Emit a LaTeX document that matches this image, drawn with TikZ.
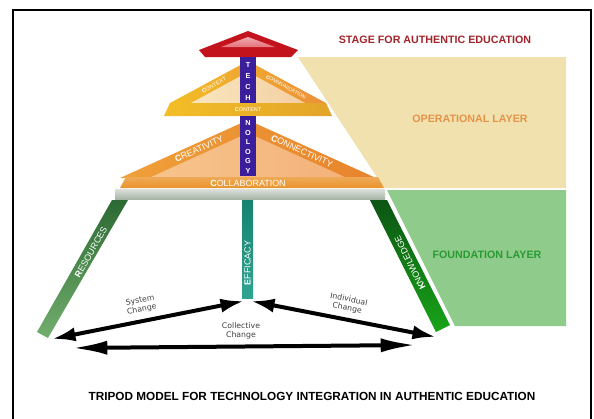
\documentclass[tikz,border=0pt]{standalone}
\usepackage{fontspec}
\setmainfont{Liberation Sans}
\newfontfamily\labelfont{DejaVu Sans}
\usetikzlibrary{arrows.meta}

\definecolor{stagered}{HTML}{C3141E}
\definecolor{stagepink}{HTML}{E5727A}
\definecolor{stagetext}{HTML}{A3232A}
\definecolor{techblue}{HTML}{3B1E9C}
\definecolor{opbeige}{HTML}{F0E1AF}
\definecolor{optext}{HTML}{E39448}
\definecolor{fdgreen}{HTML}{8FCB8A}
\definecolor{fdtext}{HTML}{2A9A35}
\definecolor{ctxyellow}{HTML}{F2BE26}
\definecolor{comorange}{HTML}{EC8F3A}
\definecolor{ctxinner}{HTML}{F8E6BE}
\definecolor{cominner}{HTML}{F4CFA2}
\definecolor{contentgold}{HTML}{E3A42A}
\definecolor{creaorange}{HTML}{EFA03A}
\definecolor{connorange}{HTML}{E7842C}
\definecolor{creainner}{HTML}{F6C48C}
\definecolor{conninner}{HTML}{F4B27A}
\definecolor{collorange}{HTML}{EA942C}
\definecolor{slabgray}{HTML}{A8B4A6}
\definecolor{resdark}{HTML}{2C6A33}
\definecolor{reslight}{HTML}{72AE6E}
\definecolor{effteal}{HTML}{1A9A84}
\definecolor{knowdark}{HTML}{0C5514}
\definecolor{knowlight}{HTML}{18A418}

\begin{document}
\begin{tikzpicture}[x=0.85pt,y=-0.85pt,>={Latex[length=20pt,width=12pt]},
  bandtext/.style={text=white,inner sep=0pt},
  techletter/.style={text=white,inner sep=0pt,font=\bfseries\fontsize{6.2}{7}\selectfont},
  layertitle/.style={inner sep=0pt,font=\bfseries\fontsize{9.1}{10}\selectfont},
  change/.style={line width=3.4pt,<->},
  changelabel/.style={align=center,inner sep=0pt,text=black!75,
    font=\labelfont\fontsize{6.6}{7.4}\selectfont}]

  \useasboundingbox (0,0) rectangle (594,418);
  \draw[line width=1.2pt] (13,430) -- (13,10) -- (591,10) -- (591,430);

  % layer panels on the right
  \fill[opbeige] (298,57) -- (566,57) -- (566,188) -- (384,188) -- cycle;
  \fill[fdgreen] (387,190) -- (566,190) -- (566,326) -- (455,326) -- cycle;
  \node[layertitle,text=stagetext] (stage) at (435,40) {STAGE FOR AUTHENTIC EDUCATION};
  \node[layertitle,text=optext] (operational) at (470,119) {OPERATIONAL LAYER};
  \node[layertitle,text=fdtext] (foundation) at (487,255) {FOUNDATION LAYER};

  % stage on top
  \fill[stagered] (248,31) -- (298,50) -- (291,57) -- (205,57) -- (199,50) -- cycle;
  \shade[top color=stagepink!60!white,bottom color=stagepink] (248,37) -- (275,47) -- (221,47) -- cycle;

  % middle triangle
  \shade[left color=ctxyellow,right color=comorange] (248,61) -- (326,103) -- (170,103) -- cycle;
  \shade[left color=ctxinner,right color=cominner] (248,72) -- (305,103) -- (191,103) -- cycle;
  \shade[left color=ctxyellow,right color=contentgold] (170,103) -- (326,103) -- (332,116) -- (164,116) -- cycle;
  \node[bandtext,rotate=28.3,font=\fontsize{4.8}{5}\selectfont] (context) at (214,85) {{\bfseries C}ONTEXT};
  \node[bandtext,rotate=-28.3,font=\fontsize{4.4}{5}\selectfont] (communication) at (286,87) {{\bfseries C}OMMUNICATION};
  \node[bandtext,font=\fontsize{4.6}{5}\selectfont] (content) at (248,110) {{\bfseries C}ONTENT};

  % lower triangle
  \shade[left color=creaorange,right color=connorange] (248,120) -- (376,178) -- (120,178) -- cycle;
  \shade[left color=creainner,right color=conninner] (248,133) -- (347,178) -- (149,178) -- cycle;
  \shade[top color=collorange!80!white,bottom color=collorange] (126,177) -- (378,177) -- (384,188) -- (120,188) -- cycle;
  \node[bandtext,rotate=24.4,font=\fontsize{7.6}{8}\selectfont] (creativity) at (199,149) {{\bfseries C}REATIVITY};
  \node[bandtext,rotate=-24.4,font=\fontsize{7.6}{8}\selectfont] (connectivity) at (302,151) {{\bfseries C}ONNECTIVITY};
  \node[bandtext,font=\fontsize{7.6}{8}\selectfont] (collaboration) at (248,183) {{\bfseries C}OLLABORATION};

  % technology pole
  \fill[techblue] (240,57) rectangle (256,103);
  \fill[techblue] (240,116) rectangle (256,176);
  \foreach \ch [count=\i] in {T,E,C,H}
    \node[techletter] (tech\i) at (248,54+\i*11) {\ch};
  \foreach \ch [count=\i] in {N,O,L,O,G,Y}
    \node[techletter] (nology\i) at (248,113.4+\i*9.6) {\ch};

  % slab and the three legs
  \shade[top color=slabgray!40!white,bottom color=slabgray] (115,189) rectangle (385,199);
  \shade[top color=resdark,bottom color=reslight] (112,200) -- (128,200) -- (48,338) -- (37,332) -- cycle;
  \shade[top color=effteal!85!black,bottom color=effteal!90!white] (242,200) rectangle (253,298);
  \shade[top color=knowdark,bottom color=knowlight] (370,200) -- (387,200) -- (450,325) -- (436,332) -- cycle;
  \node[bandtext,rotate=60.5,font=\fontsize{7.6}{8}\selectfont] (resources) at (91,252) {{\bfseries R}ESOURCES};
  \node[bandtext,rotate=90,font=\fontsize{7.6}{8}\selectfont] (efficacy) at (247.5,263) {{\bfseries E}FFICACY};
  \node[bandtext,rotate=116.6,font=\fontsize{7.6}{8}\selectfont] (knowledge) at (410,263) {{\bfseries K}NOWLEDGE};

  % change arrows
  \coordinate (hubl) at (244,301);
  \coordinate (hubr) at (251,301);
  \coordinate (footl) at (52,339);
  \coordinate (footr) at (436,337);
  \coordinate (coll) at (72,348);
  \coordinate (colr) at (416,345);
  \draw[change] (footl) -- (hubl);
  \draw[change] (hubr) -- (footr);
  \draw[change,{Latex[length=30pt,width=12pt]}-{Latex[length=30pt,width=12pt]}] (coll) -- (colr);
  \node[changelabel,rotate=11] (system) at (141,305) {System\\Change};
  \node[changelabel,rotate=-11] (individual) at (348,304) {Individual\\Change};
  \node[changelabel] (collective) at (241,331) {Collective\\Change};

  \node[inner sep=0pt,font=\bfseries\fontsize{10}{12}\selectfont] (title) at (312,396)
    {TRIPOD MODEL FOR TECHNOLOGY INTEGRATION IN AUTHENTIC EDUCATION};
\end{tikzpicture}
\end{document}
